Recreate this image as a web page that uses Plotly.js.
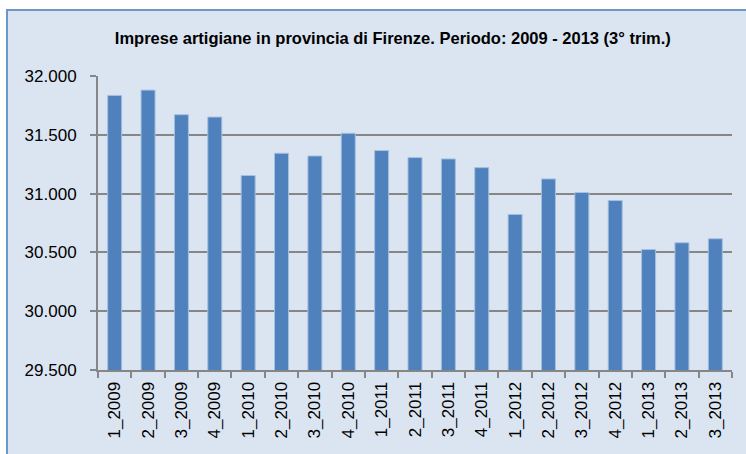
<!DOCTYPE html>
<html>
<head>
<meta charset="utf-8">
<script src="https://cdn.plot.ly/plotly-3.0.1.min.js"></script>
<style>
html,body{margin:0;padding:0;background:#ffffff;width:746px;height:454px;overflow:hidden;}
#frame{position:absolute;left:6px;top:9px;width:740px;height:445px;border-left:2px solid #7096C8;border-top:2px solid #7096C8;background:#DBE5F1;}
#chart{position:absolute;left:0;top:0;width:740px;height:445px;}
</style>
</head>
<body>
<div id="frame"><div id="chart"></div></div>
<script>
const categories = ["1_2009","2_2009","3_2009","4_2009","1_2010","2_2010","3_2010","4_2010","1_2011","2_2011","3_2011","4_2011","1_2012","2_2012","3_2012","4_2012","1_2013","2_2013","3_2013"];
const imprese = [31835,31880,31671,31651,31154,31343,31320,31513,31366,31306,31295,31221,30823,31125,31009,30941,30525,30582,30616];
const yTicks = [29500,30000,30500,31000,31500,32000];
const titleText = "Imprese artigiane in provincia di Firenze. Periodo: 2009 - 2013 (3° trim.)";

const trace = {
  type: "bar",
  x: categories,
  y: imprese,
  base: 0,
  marker: {color: "#4F81BD", line: {color: "#A7C0E0", width: 1}},
  hoverinfo: "x+y"
};

const layout = {
  width: 740, height: 445,
  margin: {l: 90, r: 16, t: 64.5, b: 86},
  paper_bgcolor: "rgba(0,0,0,0)",
  plot_bgcolor: "#DBE5F1",
  separators: ",.",
  bargap: 0.58,
  showlegend: false,
  title: {
    text: "<b>" + titleText + "</b>",
    font: {family: "Liberation Sans, Arial", size: 16.5, color: "#000000"},
    x: 0.52, xanchor: "center", y: 0.939, yanchor: "middle"
  },
  xaxis: {
    type: "category",
    tickangle: -90,
    tickson: "boundaries",
    ticks: "outside", ticklen: 6, tickwidth: 2, tickcolor: "#868686",
    showline: true, linecolor: "#868686", linewidth: 2,
    showgrid: false,
    ticklabelstandoff: 3,
    tickfont: {family: "Liberation Sans, Arial", size: 17, color: "#000000"},
    fixedrange: true
  },
  yaxis: {
    range: [29500, 32000],
    tickvals: yTicks,
    tickformat: ",d",
    ticks: "outside", ticklen: 6, tickwidth: 2, tickcolor: "#868686",
    showline: true, linecolor: "#868686", linewidth: 2,
    showgrid: true, gridcolor: "#868686", gridwidth: 2,
    zeroline: false,
    ticklabelstandoff: 10,
    tickfont: {family: "Liberation Sans, Arial", size: 17, color: "#000000"},
    fixedrange: true
  }
};

Plotly.newPlot("chart", [trace], layout, {displayModeBar: false, staticPlot: true});
</script>
</body>
</html>
